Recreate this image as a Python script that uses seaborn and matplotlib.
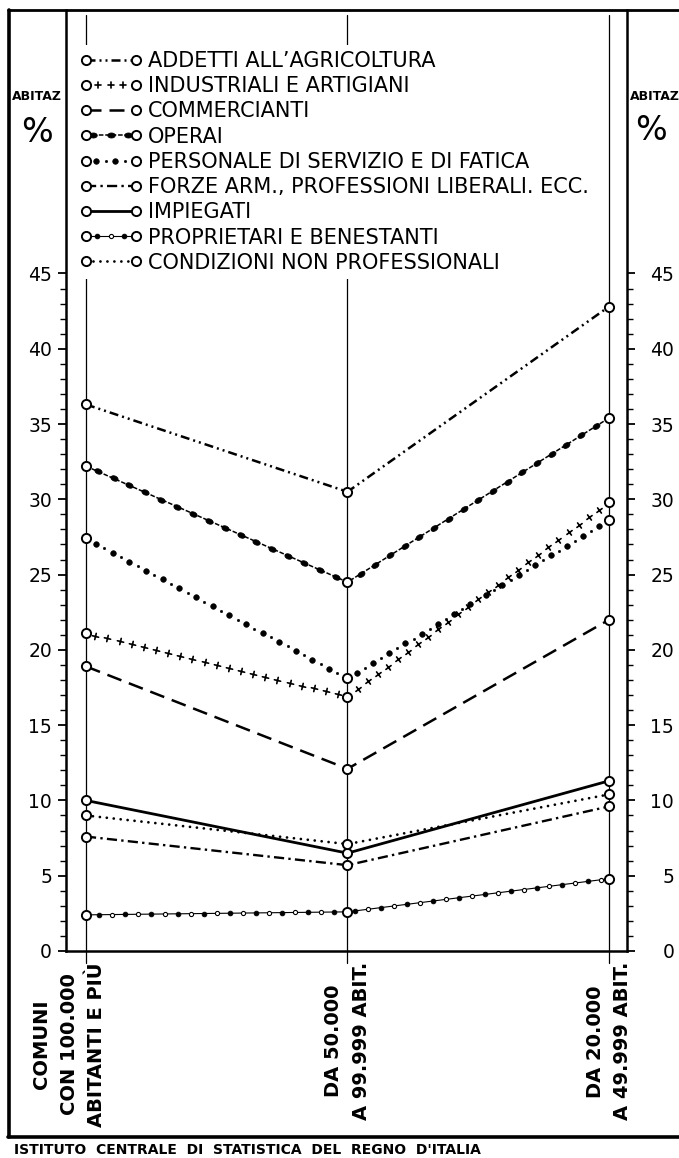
import numpy as np
import pandas as pd
import matplotlib
matplotlib.use("Agg")
import matplotlib.pyplot as plt
import seaborn as sns
from matplotlib.lines import Line2D
from matplotlib.markers import MarkerStyle
from matplotlib.path import Path
from matplotlib.patheffects import AbstractPathEffect
from matplotlib.transforms import Affine2D, IdentityTransform, ScaledTranslation
from matplotlib.legend_handler import HandlerTuple
from matplotlib.ticker import FixedLocator

# --- data -------------------------------------------------------------------
categorie = [
    "COMUNI\nCON 100.000\nABITANTI E PIÙ",
    "DA 50.000\nA 99.999 ABIT.",
    "DA 20.000\nA 49.999 ABIT.",
]
serie = [
    "ADDETTI ALL’AGRICOLTURA",
    "INDUSTRIALI E ARTIGIANI",
    "COMMERCIANTI",
    "OPERAI",
    "PERSONALE DI SERVIZIO E DI FATICA",
    "FORZE ARM., PROFESSIONI LIBERALI. ECC.",
    "IMPIEGATI",
    "PROPRIETARI E BENESTANTI",
    "CONDIZIONI NON PROFESSIONALI",
]
agricoltura = [36.3, 30.5, 42.8]
industriali = [21.1, 16.9, 29.8]
commercianti = [18.9, 12.1, 22.0]
operai = [32.2, 24.5, 35.4]
personale = [27.4, 18.1, 28.6]
forze_armate = [7.6, 5.7, 9.6]
impiegati = [10.0, 6.5, 11.3]
proprietari = [2.4, 2.6, 4.8]
non_professionali = [9.0, 7.1, 10.4]
valori = [agricoltura, industriali, commercianti, operai, personale,
          forze_armate, impiegati, proprietari, non_professionali]
tacche_maggiori = list(range(0, 46, 5))
tacche_minori = list(range(0, 46, 1))

posizioni = list(range(len(categorie)))
df = pd.DataFrame(
    [(s, p, v) for s, vals in zip(serie, valori) for p, v in zip(posizioni, vals)],
    columns=["serie", "pos", "valore"],
)


# --- a stroke that stamps small symbols at a fixed spacing along the line ---
class Beads(AbstractPathEffect):
    def __init__(self, pattern, spacing, margin=5.0, stroke=True):
        super().__init__()
        self.pattern = pattern
        self.spacing = spacing
        self.margin = margin
        self.stroke = stroke

    def draw_path(self, renderer, gc, tpath, affine, rgbFace=None):
        if self.stroke:
            renderer.draw_path(gc, tpath, affine, rgbFace)
        verts = affine.transform(tpath.vertices)
        step = renderer.points_to_pixels(self.spacing)
        margin = renderer.points_to_pixels(self.margin)
        gc2 = renderer.new_gc()
        gc2.copy_properties(gc)
        gc2.set_dashes(0, None)
        gc2.set_joinstyle("round")
        for p0, p1 in zip(verts[:-1], verts[1:]):
            d = p1 - p0
            length = float(np.hypot(d[0], d[1]))
            usable = length - 2 * margin
            if usable <= 0:
                continue
            n = int(usable // step) + 1
            start = margin + (usable - (n - 1) * step) / 2
            t = (start + step * np.arange(n)) / length
            pts = p0 + t[:, None] * d
            ang = np.arctan2(d[1], d[0])
            for j, b in enumerate(self.pattern):
                sel = pts[j::len(self.pattern)]
                if len(sel) == 0:
                    continue
                ms = MarkerStyle(b["marker"])
                size = renderer.points_to_pixels(b["size"])
                trans = ms.get_transform() + Affine2D().scale(
                    size * b.get("aspect", 1.0), size).rotate(ang)
                gc2.set_linewidth(b["lw"])
                renderer.draw_markers(gc2, ms.get_path(), trans, Path(sel),
                                      IdentityTransform(), b.get("face"))
        gc2.restore()


NERO = (0, 0, 0)
BIANCO = (1, 1, 1)

stili = [
    dict(linewidth=1.8, linestyle=(0, (3.6, 1.6, 0.8, 1.6, 0.8, 1.6))),
    dict(linewidth=1.0, linestyle="-",
         path_effects=[Beads([dict(marker="+", size=4.6, lw=1.2)], 9.0, stroke=False)]),
    dict(linewidth=1.8, linestyle=(0, (6.0, 3.2))),
    dict(linewidth=1.1, linestyle=(0, (3.0, 1.2)),
         path_effects=[Beads([dict(marker="o", size=3.6, lw=0.6, face=NERO, aspect=1.5)], 12.5)]),
    dict(linewidth=1.0, linestyle="-",
         path_effects=[Beads([dict(marker="o", size=4.0, lw=0.5, face=NERO),
                              dict(marker="o", size=1.6, lw=0.5, face=NERO)], 6.8, stroke=False)]),
    dict(linewidth=1.7, linestyle=(0, (4.3, 1.8, 1.0, 1.8))),
    dict(linewidth=2.0, linestyle="-"),
    dict(linewidth=0.8, linestyle="-",
         path_effects=[Beads([dict(marker="o", size=3.4, lw=0.6, face=NERO),
                              dict(marker="o", size=3.0, lw=0.8, face=BIANCO)], 9.4)]),
    dict(linewidth=2.0, linestyle=(0, (0.01, 2.5)), dash_capstyle="round"),
]

# --- figure -------------------------------------------------------------------
sns.set_theme(style="white")
plt.rcParams["font.family"] = ["DejaVu Sans"]
plt.rcParams.update({
    "axes.edgecolor": "black",
    "text.color": "black",
    "axes.labelcolor": "black",
    "xtick.color": "black",
    "ytick.color": "black",
})

W, H = 679, 1158
fig = plt.figure(figsize=(W / 100, H / 100), dpi=100)
fig.patch.set_facecolor("white")
ax = fig.add_axes([66 / W, 1 - 951 / H, (627 - 66) / W, (951 - 10) / H])
ax.set_facecolor("white")

# thin vertical guides at each class of communes
for p in posizioni:
    ax.axvline(p, ymin=-0.0125, ymax=0.9947, color="black", lw=0.9,
               clip_on=False, zorder=1)

handles = []
for nome, stile in zip(serie, stili):
    sub = df[df["serie"] == nome]
    sns.lineplot(data=sub, x="pos", y="valore", ax=ax, color="black",
                 errorbar=None, legend=False, zorder=3, **stile)
    linea = ax.lines[-1]
    sns.lineplot(data=sub, x="pos", y="valore", ax=ax, errorbar=None,
                 legend=False, linestyle="", marker="o", markersize=6.6,
                 markerfacecolor="white", markeredgecolor="black",
                 markeredgewidth=1.4, zorder=4)
    punti = ax.lines[-1]
    handles.append((linea, punti))

ax.set_xlim(-0.0765, 2.069)
ax.set_ylim(0, 62.5)
ax.set_xlabel("")
ax.set_ylabel("")

for side in ["left", "right", "bottom"]:
    ax.spines[side].set_linewidth(1.8)
    ax.spines[side].set_color("black")
ax.spines["top"].set_visible(False)

ax.yaxis.set_major_locator(FixedLocator(tacche_maggiori))
ax.yaxis.set_minor_locator(FixedLocator(tacche_minori))
ax.tick_params(axis="y", which="major", direction="out", length=6, width=1.3,
               labelsize=13.5, pad=4, left=True, right=False, colors="black")
ax.tick_params(axis="y", which="minor", direction="out", length=4, width=1.0,
               left=True, right=False, colors="black")

ax.set_xticks(posizioni)
ax.set_xticklabels(categorie, rotation=90, fontsize=14, fontweight="bold",
                   va="top", ha="center", multialignment="center",
                   linespacing=1.55)
ax.tick_params(axis="x", length=0, pad=8, colors="black")
first = ax.get_xticklabels()[0]
first.set_transform(first.get_transform() +
                    ScaledTranslation(-0.17, 0, fig.dpi_scale_trans))

# right-hand scale
ax2 = ax.twinx()
ax2.set_ylim(ax.get_ylim())
for s in ax2.spines.values():
    s.set_visible(False)
ax2.yaxis.set_major_locator(FixedLocator(tacche_maggiori))
ax2.yaxis.set_minor_locator(FixedLocator(tacche_minori))
ax2.tick_params(axis="y", which="major", direction="out", length=6, width=1.3,
                labelsize=13.5, pad=28, right=True, left=False, colors="black")
ax2.tick_params(axis="y", which="minor", direction="out", length=4, width=1.0,
                right=True, left=False, colors="black")
for lab in ax2.get_yticklabels():
    lab.set_horizontalalignment("right")
ax2.grid(False)
ax.grid(False)

leg = ax.legend(handles, serie, loc="upper left",
                bbox_to_anchor=(0.0125, 0.963), borderaxespad=0,
                frameon=True, facecolor="white", edgecolor="none",
                framealpha=1, fancybox=False, borderpad=0.3,
                handlelength=3.0, handletextpad=0.3, labelspacing=0.25,
                numpoints=2, prop={"size": 15},
                handler_map={tuple: HandlerTuple(ndivide=1, pad=0)})
leg.set_zorder(6)
for t in leg.get_texts():
    t.set_color("black")

# outer frame
fx = lambda x: x / W
fy = lambda y: 1 - y / H
fig.add_artist(Line2D([fx(9), fx(9)], [fy(10), fy(1137)], color="black", lw=2.6))
fig.add_artist(Line2D([fx(8), fx(679)], [fy(10), fy(10)], color="black", lw=2.0))
fig.add_artist(Line2D([fx(8), fx(679)], [fy(1137), fy(1137)], color="black", lw=2.6))

# unit captions on both scales
fig.text(fx(37), fy(97), "ABITAZ", fontsize=9, fontweight="bold",
         ha="center", va="center")
fig.text(fx(37), fy(133), "%", fontsize=24, ha="center", va="center")
fig.text(fx(630), fy(97), "ABITAZ", fontsize=9, fontweight="bold",
         ha="left", va="center")
fig.text(fx(651), fy(131), "%", fontsize=24, ha="center", va="center")

fig.text(fx(14), fy(1150), "ISTITUTO  CENTRALE  DI  STATISTICA  DEL  REGNO  D'ITALIA",
         fontsize=10, fontweight="bold", ha="left", va="center",
         family=["Liberation Sans Narrow", "DejaVu Sans"])

fig.savefig("out.png", dpi=100, facecolor="white")
